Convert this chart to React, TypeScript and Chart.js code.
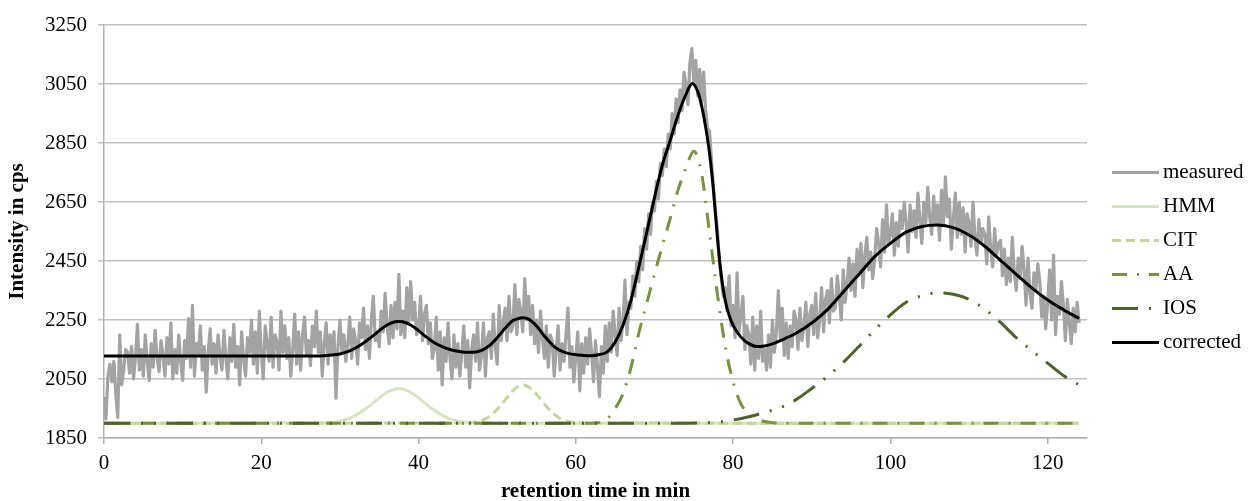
import React, { useEffect, useRef } from 'react';
import { Chart, registerables } from 'chart.js';

Chart.register(...registerables);

const FONT = '"Liberation Serif", "Times New Roman", serif';

// ---- axis ticks ----
const X_TICKS = [0, 20, 40, 60, 80, 100, 120];
const Y_TICKS = [1850, 2050, 2250, 2450, 2650, 2850, 3050, 3250];
const X_MIN = 0;
const X_MAX = 125;
const Y_MIN = 1850;
const Y_MAX = 3250;

// ---- series names ----
const SERIES_NAMES = ['measured', 'HMM', 'CIT', 'AA', 'IOS', 'corrected'];

// ---- measured signal (sampled every 0.25 min from 0 min) ----
const MEASURED_T0 = 0;
const MEASURED_DT = 0.25;
const MEASURED = [
  1990, 1915, 2060, 2100, 2040, 2110, 2000, 1920, 2200, 2030, 2080, 2150, 2140, 2070, 2160, 2050, 2120, 2235, 2080, 2150,
  2060, 2200, 2110, 2045, 2170, 2090, 2215, 2120, 2075, 2180, 2130, 2060, 2190, 2100, 2240, 2050, 2150, 2070, 2200, 2110,
  2045, 2180, 2120, 2255, 2090, 2300, 2060, 2170, 2130, 2230, 2080, 2160, 2005, 2140, 2220, 2100, 2170, 2070, 2200, 2130,
  2080, 2215, 2120, 2050, 2190, 2110, 2235, 2090, 2160, 2030, 2210, 2120, 2060, 2190, 2140, 2250, 2100, 2210, 2070, 2280,
  2140, 2050, 2230, 2170, 2110, 2260, 2090, 2200, 2175, 2080, 2280, 2140, 2230, 2120, 2190, 2060, 2150, 2270, 2100, 2210,
  2080, 2200, 2260, 2130, 2180, 2095, 2230, 2160, 2280, 2140, 2210, 2060, 2170, 2240, 2100, 2200, 2130, 2210, 1985, 2160,
  2250, 2140, 2200, 2110, 2170, 2260, 2120, 2220, 2180, 2100, 2240, 2190, 2290, 2150, 2230, 2120, 2250, 2330, 2180, 2210,
  2160, 2280, 2210, 2340, 2230, 2170, 2300, 2190, 2310, 2220, 2405, 2200, 2280, 2190, 2360, 2240, 2380, 2250, 2310, 2200,
  2220, 2330, 2180, 2270, 2300, 2170, 2240, 2120, 2150, 2260, 2080, 2210, 2030, 2190, 2110, 2240, 2120, 2050, 2200, 2090,
  2170, 2060, 2140, 2230, 2090, 2180, 2020, 2150, 2200, 2110, 2240, 2080, 2130, 2240, 2060, 2190, 2210, 2120, 2270, 2160,
  2100, 2300, 2180, 2240, 2290, 2180, 2330, 2210, 2230, 2370, 2200, 2320, 2280, 2210, 2390, 2250, 2330, 2200, 2300, 2170,
  2250, 2140, 2280, 2190, 2120, 2230, 2090, 2200, 2180, 2060, 2150, 2230, 2080, 2170, 2110, 2200, 2290, 2090, 2160, 2040,
  2130, 2210, 2010, 2170, 2070, 2190, 2100, 2220, 2140, 2040, 2180, 2090, 1990, 2160, 2070, 2230, 2110, 2240, 2140, 2280,
  2200, 2130, 2290, 2180, 2250, 2385, 2200, 2310, 2290, 2400, 2330, 2450, 2380, 2500, 2420, 2560, 2490, 2610, 2540, 2650,
  2620, 2720, 2660, 2780, 2740, 2830, 2770, 2880, 2830, 2950, 2880, 3000, 2920, 3030, 2960, 3090, 3050, 2980, 3120, 3170,
  3060, 3130, 3010, 3100, 2990, 3090, 2960, 2900, 2890, 2790, 2700, 2620, 2560, 2450, 2390, 2330, 2360, 2280, 2400, 2230,
  2300, 2190, 2410, 2210, 2270, 2330, 2150, 2230, 2200, 2100, 2260, 2080, 2230, 2120, 2280, 2110, 2150, 2080, 2200, 2090,
  2250, 2140, 2210, 2350, 2190, 2290, 2130, 2240, 2120, 2230, 2160, 2280, 2250, 2150, 2290, 2180, 2230, 2310, 2160, 2270,
  2300, 2200, 2340, 2190, 2250, 2360, 2210, 2320, 2350, 2240, 2390, 2280, 2290, 2400, 2330, 2250, 2420, 2310, 2380, 2460,
  2350, 2440, 2330, 2490, 2400, 2510, 2360, 2470, 2530, 2420, 2480, 2390, 2460, 2560, 2510, 2430, 2590, 2480, 2640, 2510,
  2540, 2610, 2470, 2580, 2500, 2620, 2560, 2650, 2580, 2480, 2640, 2550, 2620, 2530, 2680, 2590, 2510, 2650, 2580, 2700,
  2600, 2540, 2670, 2580, 2640, 2520, 2690, 2570, 2735, 2600, 2660, 2490, 2590, 2680, 2530, 2650, 2540, 2630, 2480, 2610,
  2580, 2500, 2650, 2530, 2470, 2590, 2510, 2560, 2540, 2440, 2600, 2490, 2430, 2560, 2470, 2510, 2520, 2400, 2490, 2370,
  2460, 2380, 2530, 2410, 2350, 2460, 2390, 2500, 2420, 2300, 2460, 2340, 2290, 2410, 2350, 2440, 2380, 2260, 2330, 2220,
  2310, 2420, 2250, 2470, 2200, 2330, 2270, 2380, 2300, 2180, 2320, 2240, 2170, 2290, 2210, 2310,
  2240,
];

// ---- fitted components ----
const HMM_X = [0, 28, 29, 30, 31, 32, 33, 34, 35, 36, 37, 37.5, 38, 39, 40, 41, 42, 43, 44, 45, 46, 47, 48, 124];
const HMM_Y = [1900, 1901, 1903, 1907, 1915, 1927, 1944, 1964, 1986, 2005, 2016, 2017, 2016, 2005, 1986, 1964, 1944, 1927, 1915, 1907, 1903, 1901, 1900, 1900];

const CIT_X = [0, 46.3, 47.3, 48.3, 49.3, 50.3, 51.3, 52.3, 53.3, 54.3, 55.3, 56.3, 57.3, 58.3, 59.3, 60.3, 124];
const CIT_Y = [1900, 1901, 1904, 1912, 1929, 1956, 1989, 2018, 2030, 2018, 1989, 1956, 1929, 1912, 1904, 1901, 1900];

const AA_X = [0, 62, 63, 64, 65, 66, 67, 68, 69, 70, 71, 72, 73, 74, 75, 76, 77, 78, 79, 80, 81, 82, 83, 84, 85, 86, 124];
const AA_Y = [1900, 1900, 1903, 1915, 1950, 2000, 2088, 2205, 2305, 2405, 2502, 2594, 2691, 2765, 2822, 2745, 2545, 2338, 2160, 2040, 1965, 1935, 1915, 1906, 1902, 1900, 1900];

const IOS_X = [0, 74, 76, 78, 80, 82, 84, 86, 88, 90, 92, 94, 96, 98, 100, 102, 104, 106, 108, 110, 112, 114, 116, 118, 120, 122, 124];
const IOS_Y = [1900, 1900, 1901, 1904, 1911, 1922, 1937, 1953, 1980, 2018, 2059, 2106, 2160, 2216, 2267, 2310, 2332, 2342, 2337, 2320, 2287, 2242, 2190, 2146, 2104, 2062, 2030];

const CORRECTED_X = [0, 10, 20, 26, 27, 28, 29, 30, 31, 32, 33, 34, 35, 36, 37, 37.5, 38, 39, 40, 41, 42, 43, 44, 45, 46, 47, 48, 49, 50, 51, 52, 53, 53.3, 54, 55, 56, 57, 58, 59, 60, 61, 62, 63, 64, 65, 66, 67, 68, 69, 70, 71, 72, 73, 74, 74.8, 75.5, 76, 76.5, 77, 77.5, 78, 78.5, 79, 79.5, 80, 81, 82, 83, 84, 85, 86, 88, 90, 92, 94, 96, 98, 100, 102, 104, 106, 108, 110, 112, 114, 116, 118, 120, 122, 124];
const CORRECTED_Y = [2128, 2128, 2128, 2128, 2128, 2129, 2131, 2135, 2143, 2155, 2172, 2192, 2214, 2233, 2244, 2245, 2244, 2233, 2214, 2192, 2173, 2160, 2150, 2144, 2141, 2141, 2147, 2163, 2190, 2222, 2248, 2257, 2258, 2253, 2230, 2196, 2166, 2147, 2137, 2132, 2130, 2129, 2133, 2142, 2175, 2232, 2316, 2428, 2545, 2665, 2775, 2859, 2945, 3015, 3052, 3025, 2975, 2905, 2815, 2690, 2530, 2400, 2315, 2265, 2232, 2192, 2170, 2160, 2162, 2169, 2180, 2205, 2240, 2285, 2345, 2405, 2465, 2510, 2548, 2567, 2572, 2563, 2538, 2500, 2452, 2405, 2358, 2318, 2285, 2255];

const toPoints = (xs: number[], ys: number[]) => xs.map((x, i) => ({ x, y: ys[i] }));

const LEGEND_TOP = 172.5;
const LEGEND_ROW = 34;

const sideLegend = {
  id: 'sideLegend',
  afterDraw(chart: any) {
    const { ctx, chartArea } = chart;
    const lineX0 = chartArea.right + 25;
    const lineLen = 47;
    const textX = lineX0 + lineLen + 4;
    ctx.save();
    chart.data.datasets.forEach((ds: any, i: number) => {
      const y = LEGEND_TOP + i * LEGEND_ROW;
      ctx.beginPath();
      ctx.setLineDash(ds.borderDash || []);
      ctx.lineDashOffset = 0;
      ctx.lineCap = 'butt';
      ctx.lineWidth = 3;
      ctx.strokeStyle = ds.borderColor;
      ctx.moveTo(lineX0, y);
      ctx.lineTo(lineX0 + lineLen, y);
      ctx.stroke();
      ctx.setLineDash([]);
      ctx.fillStyle = '#000';
      ctx.font = `21px ${FONT}`;
      ctx.textBaseline = 'middle';
      ctx.textAlign = 'left';
      ctx.fillText(ds.label, textX, y);
    });
    ctx.restore();
  },
};

export default function App() {
  const ref = useRef<HTMLCanvasElement>(null);

  useEffect(() => {
    if (!ref.current) return;
    const measuredPts = MEASURED.map((y, i) => ({ x: MEASURED_T0 + i * MEASURED_DT, y }));
    const smooth = { cubicInterpolationMode: 'monotone' as const, pointRadius: 0, fill: false };
    const chart = new Chart(ref.current, {
      type: 'line',
      data: {
        datasets: [
          {
            label: SERIES_NAMES[0],
            data: measuredPts,
            borderColor: '#a3a3a3',
            borderWidth: 3.2,
            pointRadius: 0,
            tension: 0,
            borderJoinStyle: 'round',
            order: 6,
          },
          { label: SERIES_NAMES[1], data: toPoints(HMM_X, HMM_Y), borderColor: '#d7e4bd', borderWidth: 3, ...smooth, order: 5 },
          { label: SERIES_NAMES[2], data: toPoints(CIT_X, CIT_Y), borderColor: '#c3d69b', borderWidth: 3, borderDash: [9, 5], ...smooth, order: 4 },
          { label: SERIES_NAMES[3], data: toPoints(AA_X, AA_Y), borderColor: '#77933c', borderWidth: 3, borderDash: [15, 10, 2, 10], ...smooth, order: 3 },
          { label: SERIES_NAMES[4], data: toPoints(IOS_X, IOS_Y), borderColor: '#4f6228', borderWidth: 3, borderDash: [26, 11, 2, 11, 2, 11], ...smooth, order: 2 },
          { label: SERIES_NAMES[5], data: toPoints(CORRECTED_X, CORRECTED_Y), borderColor: '#000000', borderWidth: 3, ...smooth, order: 1 },
        ] as any,
      },
      options: {
        animation: false,
        responsive: true,
        maintainAspectRatio: false,
        parsing: false as any,
        layout: { padding: { top: 25, right: 162, bottom: 0, left: 0 } },
        plugins: {
          legend: { display: false },
          tooltip: { enabled: false },
        },
        scales: {
          x: {
            type: 'linear',
            min: X_MIN,
            max: X_MAX,
            afterBuildTicks: (s: any) => {
              s.ticks = X_TICKS.map((v) => ({ value: v }));
            },
            afterFit: (s: any) => {
              s.height = 63;
            },
            ticks: {
              autoSkip: false,
              maxRotation: 0,
              padding: 7,
              color: '#000',
              font: { family: FONT, size: 21 },
              callback: (v: any) => String(v),
            },
            grid: {
              display: true,
              drawOnChartArea: false,
              drawTicks: true,
              tickLength: 6,
              color: '#b0b0b0',
              lineWidth: 1.5,
            },
            border: { display: true, color: '#b0b0b0', width: 1.5 },
            title: {
              display: true,
              text: 'retention time in min',
              color: '#000',
              font: { family: FONT, size: 21, weight: 'bold', lineHeight: 0.86 },
              padding: { top: 0, bottom: 0 },
            },
          },
          y: {
            type: 'linear',
            min: Y_MIN,
            max: Y_MAX,
            afterBuildTicks: (s: any) => {
              s.ticks = Y_TICKS.map((v) => ({ value: v }));
            },
            afterFit: (s: any) => {
              s.width = 104;
            },
            ticks: {
              autoSkip: false,
              padding: 11,
              color: '#000',
              font: { family: FONT, size: 21 },
              callback: (v: any) => String(v),
            },
            grid: {
              color: '#c0c0c0',
              lineWidth: 1.5,
              drawTicks: true,
              tickLength: 6,
            },
            border: { display: true, color: '#b0b0b0', width: 1.5 },
            title: {
              display: true,
              text: 'Intensity in cps',
              color: '#000',
              font: { family: FONT, size: 21, weight: 'bold', lineHeight: 1.2 },
              padding: { top: 5, bottom: 0 },
            },
          },
        },
      } as any,
      plugins: [sideLegend],
    });
    return () => chart.destroy();
  }, []);

  return (
    <div style={{ position: 'fixed', left: 0, top: 0, width: 1249, height: 501, background: '#fff' }}>
      <canvas ref={ref} />
    </div>
  );
}
